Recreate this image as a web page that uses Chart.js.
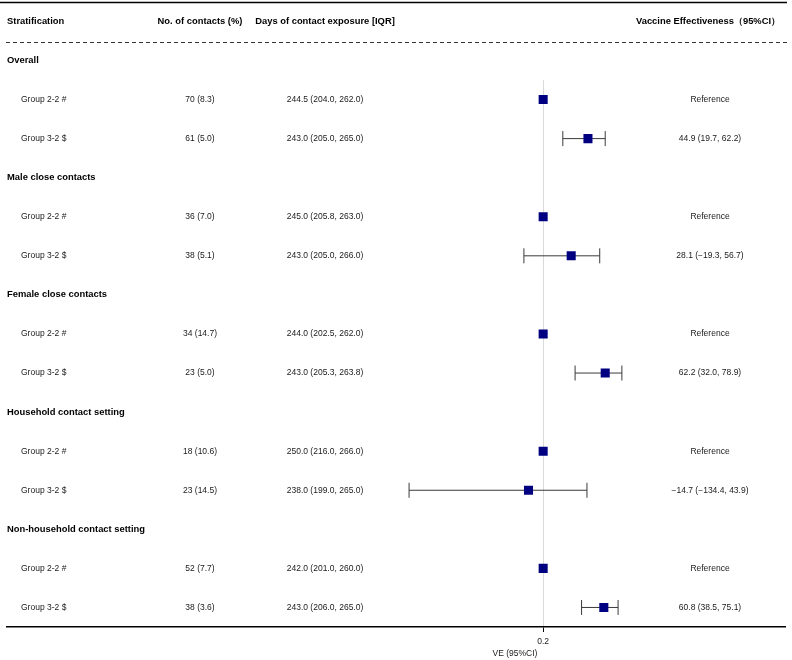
<!DOCTYPE html>
<html lang="en">
<head>
<meta charset="UTF-8">
<title>Vaccine effectiveness forest plot</title>
<script src="https://cdn.jsdelivr.net/npm/chart.js"></script>
<style>
  body { margin: 0; background: #fff; }
  canvas { display: block; }
</style>
</head>
<body>
<canvas id="forest" width="792" height="660"></canvas>
<script>
// table data, one entry per group row (two rows per stratum)
const sections = ['Overall', 'Male close contacts', 'Female close contacts',
                  'Household contact setting', 'Non-household contact setting'];
const groupLabels = ['Group 2-2 #', 'Group 3-2 $'];
const nContacts = [70, 61, 36, 38, 34, 23, 18, 23, 52, 38];
const pctContacts = [8.3, 5.0, 7.0, 5.1, 14.7, 5.0, 10.6, 14.5, 7.7, 3.6];
const daysMedian = [244.5, 243.0, 245.0, 243.0, 244.0, 243.0, 250.0, 238.0, 242.0, 243.0];
const daysQ1 = [204.0, 205.0, 205.8, 205.0, 202.5, 205.3, 216.0, 199.0, 201.0, 206.0];
const daysQ3 = [262.0, 265.0, 263.0, 266.0, 262.0, 263.8, 266.0, 265.0, 260.0, 265.0];
// null = reference group (drawn at VE 0)
const veEst = [null, 44.9, null, 28.1, null, 62.2, null, -14.7, null, 60.8];
const veLow = [null, 19.7, null, -19.3, null, 32.0, null, -134.4, null, 38.5];
const veHigh = [null, 62.2, null, 56.7, null, 78.9, null, 43.9, null, 75.1];
const xTickValues = [0];
const xTickLabels = ['0.2'];

const FONT = '"Liberation Sans", Arial, sans-serif';
const fmt = v => v.toFixed(1).replace('-', '\u2212');

// row index on the y scale: header -1, section s at 3s, its groups at 3s+1, 3s+2
const rowOf = i => Math.floor(i / 2) * 3 + (i % 2) + 1;

const points = veEst.map((v, i) => ({ x: v === null ? 0 : v, y: rowOf(i) }));

const tablePlugin = {
  id: 'forestTable',
  beforeDatasetsDraw(chart) {
    const { ctx, scales: { x, y } } = chart;
    ctx.save();
    ctx.strokeStyle = '#3a3a3a';
    ctx.lineWidth = 1;
    veEst.forEach((v, i) => {
      if (v === null) return;
      const py = y.getPixelForValue(rowOf(i));
      const x1 = x.getPixelForValue(veLow[i]);
      const x2 = x.getPixelForValue(veHigh[i]);
      ctx.beginPath();
      ctx.moveTo(x1, py); ctx.lineTo(x2, py);
      ctx.moveTo(x1, py - 7.5); ctx.lineTo(x1, py + 7.5);
      ctx.moveTo(x2, py - 7.5); ctx.lineTo(x2, py + 7.5);
      ctx.stroke();
    });
    ctx.restore();
  },
  afterDraw(chart) {
    const { ctx, scales: { x, y } } = chart;
    ctx.save();
    ctx.textBaseline = 'middle';
    ctx.fillStyle = '#000';

    // rules
    ctx.strokeStyle = '#000';
    ctx.lineWidth = 1.5;
    ctx.beginPath(); ctx.moveTo(0, 2.5); ctx.lineTo(787, 2.5); ctx.stroke();
    ctx.strokeStyle = '#333';
    ctx.lineWidth = 1;
    ctx.setLineDash([4, 3]);
    ctx.beginPath(); ctx.moveTo(6, 42.5); ctx.lineTo(787, 42.5); ctx.stroke();
    ctx.setLineDash([]);

    // header
    const hy = y.getPixelForValue(-1);
    ctx.font = 'bold 9.4px ' + FONT;
    ctx.textAlign = 'left';
    ctx.fillText('Stratification', 7, hy);
    ctx.textAlign = 'center';
    ctx.fillText('No. of contacts (%)', 200, hy);
    ctx.fillText('Days of contact exposure [IQR]', 325, hy);
    ctx.fillText('Vaccine Effectiveness\uFF0895%CI\uFF09', 708, hy);

    sections.forEach((s, k) => {
      ctx.textAlign = 'left';
      ctx.fillText(s, 7, y.getPixelForValue(k * 3));
    });

    ctx.font = '8.5px ' + FONT;
    ctx.fillStyle = '#1a1a1a';
    nContacts.forEach((n, i) => {
      const py = y.getPixelForValue(rowOf(i));
      ctx.textAlign = 'left';
      ctx.fillText(groupLabels[i % 2], 21, py);
      ctx.textAlign = 'center';
      ctx.fillText(n + ' (' + fmt(pctContacts[i]) + ')', 200, py);
      ctx.fillText(fmt(daysMedian[i]) + ' (' + fmt(daysQ1[i]) + ', ' + fmt(daysQ3[i]) + ')', 325, py);
      const ve = veEst[i] === null ? 'Reference'
        : fmt(veEst[i]) + ' (' + fmt(veLow[i]) + ', ' + fmt(veHigh[i]) + ')';
      ctx.fillText(ve, 710, py);
    });

    // axis title
    ctx.fillText('VE (95%CI)', 515, 654);
    ctx.restore();
  }
};

new Chart(document.getElementById('forest'), {
  type: 'scatter',
  data: {
    datasets: [{
      data: points,
      pointStyle: 'rect',
      pointRadius: 6.4,
      pointHoverRadius: 6.4,
      backgroundColor: '#000080',
      borderColor: '#000080',
      borderWidth: 0
    }]
  },
  options: {
    responsive: false,
    animation: false,
    events: [],
    layout: { padding: { left: 6, right: 5, top: 80, bottom: 0 } },
    plugins: { legend: { display: false }, tooltip: { enabled: false } },
    scales: {
      x: {
        type: 'linear',
        min: -538,
        max: 243,
        afterBuildTicks: s => { s.ticks = xTickValues.map(v => ({ value: v })); },
        afterFit: s => { s.height = 33; },
        grid: { color: '#d9d9d9', lineWidth: 1, tickColor: '#000', tickLength: 5 },
        border: { display: true, color: '#000', width: 1.5 },
        ticks: {
          padding: 5,
          color: '#222',
          font: { family: FONT, size: 8.5 },
          callback: (v, idx) => xTickLabels[idx]
        }
      },
      y: {
        type: 'linear',
        reverse: true,
        min: 0.5,
        max: 14.5,
        display: false
      }
    }
  },
  plugins: [tablePlugin]
});
</script>
</body>
</html>
